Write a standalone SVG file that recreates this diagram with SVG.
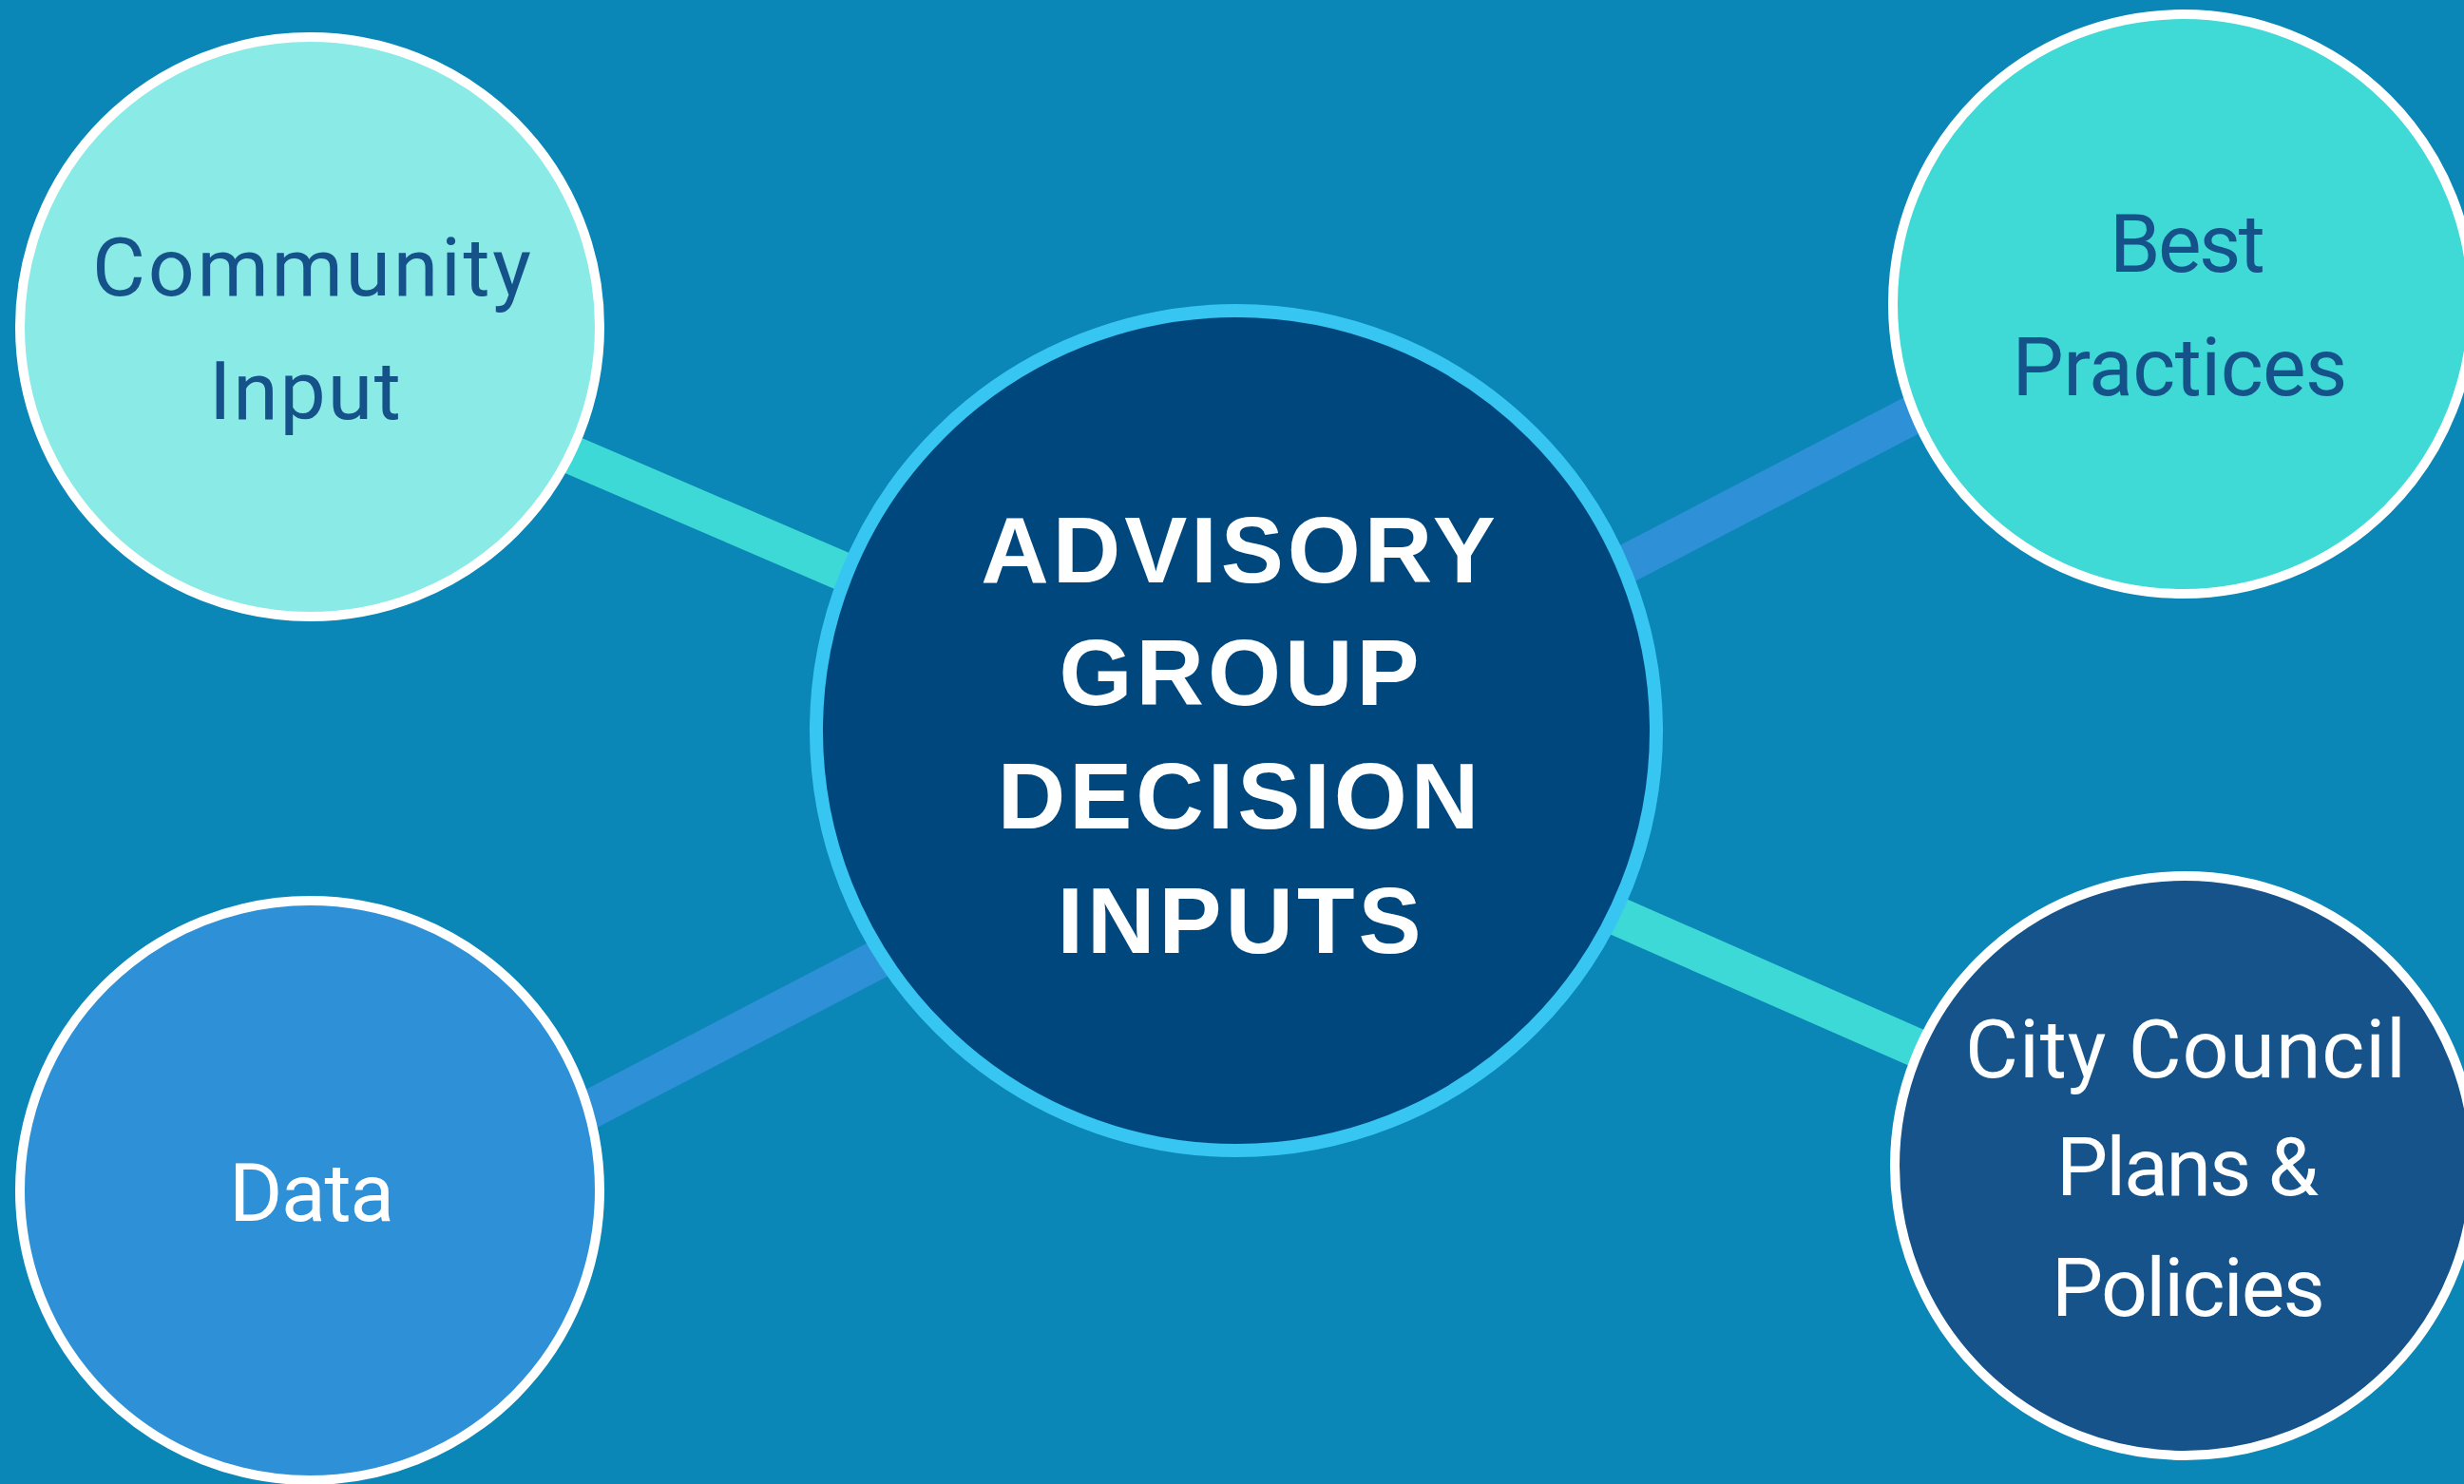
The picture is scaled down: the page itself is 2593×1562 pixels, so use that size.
<svg xmlns="http://www.w3.org/2000/svg" width="2593" height="1562" viewBox="0 0 2593 1562">
<style>
.bg{fill:#0A87B7}
.conn{stroke-width:41;stroke-linecap:butt;fill:none}
.teal{stroke:#3DD9D6}
.blue{stroke:#2E90D6}
.sat{stroke:#FFFFFF;stroke-width:10}
.lbl{font-family:Roboto,"Liberation Sans",sans-serif;font-size:86px;text-anchor:middle}
.dark{fill:#15528A}
.light{fill:#FFFFFF}
.hub{font-family:"Liberation Sans",Arial,sans-serif;font-weight:bold;font-size:99px;text-anchor:middle;letter-spacing:4px;fill:#FFFFFF}
</style>
<rect class="bg" x="0" y="0" width="2593" height="1562"/>
<g id="connectors">
<line class="conn teal" x1="500" y1="435" x2="1100" y2="693"/>
<line class="conn blue" x1="1600" y1="651.6" x2="2100" y2="391.2"/>
<line class="conn blue" x1="450" y1="1256.5" x2="1100" y2="918.2"/>
<line class="conn teal" x1="1500" y1="875.4" x2="2150" y2="1161.5"/>
</g>
<g id="community-input">
<circle class="sat" cx="326" cy="344" r="305" fill="#8AEAE6"/>
<text class="lbl dark" x="328" y="311" textLength="462" lengthAdjust="spacing">Community</text>
<text class="lbl dark" x="321" y="441" textLength="202" lengthAdjust="spacing">Input</text>
</g>
<g id="best-practices">
<circle class="sat" cx="2297" cy="320" r="305" fill="#3FD9D6"/>
<text class="lbl dark" x="2302" y="286" textLength="164" lengthAdjust="spacing">Best</text>
<text class="lbl dark" x="2294" y="416" textLength="353" lengthAdjust="spacing">Practices</text>
</g>
<g id="data">
<circle class="sat" cx="326" cy="1253" r="305" fill="#2E90D6"/>
<text class="lbl light" x="328" y="1285" textLength="174" lengthAdjust="spacing">Data</text>
</g>
<g id="city-council">
<circle class="sat" cx="2299" cy="1227" r="305" fill="#15538A"/>
<text class="lbl light" x="2300" y="1134" textLength="464" lengthAdjust="spacing">City Council</text>
<text class="lbl light" x="2302" y="1258" textLength="276" lengthAdjust="spacing">Plans &amp;</text>
<text class="lbl light" x="2303" y="1385" textLength="288" lengthAdjust="spacing">Policies</text>
</g>
<g id="hub">
<circle cx="1301" cy="769" r="442" fill="#00477D" stroke="#37C6F2" stroke-width="14"/>
<text class="hub" x="1305" y="613">ADVISORY</text>
<text class="hub" x="1306" y="742">GROUP</text>
<text class="hub" x="1305" y="872">DECISION</text>
<text class="hub" x="1306" y="1003">INPUTS</text>
</g>
</svg>
